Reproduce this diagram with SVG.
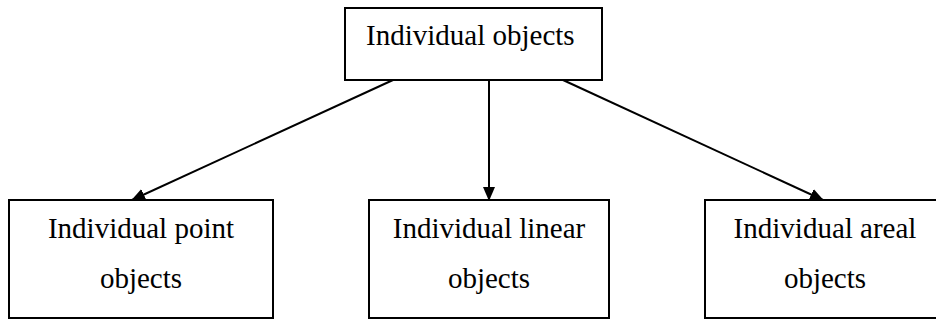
<svg xmlns="http://www.w3.org/2000/svg" width="936" height="320" viewBox="0 0 936 320">
<style>
.box{fill:#fff;stroke:#000;stroke-width:2}
.t{font-family:"Liberation Serif","Times New Roman",serif;font-size:29px;fill:#000}
.c{text-anchor:middle}
.conn{stroke:#000;stroke-width:2;fill:none}
</style>
<defs>
<marker id="ah" markerUnits="userSpaceOnUse" markerWidth="14" markerHeight="12" refX="13" refY="6" orient="auto">
<path d="M0,0 L14,6 L0,12 z" fill="#000"/>
</marker>
</defs>
<rect x="0" y="0" width="936" height="320" fill="#fff"/>
<g id="connectors">
<line class="conn" x1="393" y1="80" x2="132" y2="200" marker-end="url(#ah)"/>
<line class="conn" x1="489" y1="80" x2="489" y2="200" marker-end="url(#ah)"/>
<line class="conn" x1="563" y1="80" x2="823" y2="200" marker-end="url(#ah)"/>
</g>
<g id="top">
<rect class="box" x="345" y="8" width="257" height="72"/>
<text class="t" x="366" y="45">Individual objects</text>
</g>
<g id="point">
<rect class="box" x="9" y="200" width="264" height="118"/>
<text class="t c" x="141" y="238">Individual point</text>
<text class="t c" x="141" y="288">objects</text>
</g>
<g id="linear">
<rect class="box" x="369" y="200" width="240" height="118"/>
<text class="t c" x="489" y="238">Individual linear</text>
<text class="t c" x="489" y="288">objects</text>
</g>
<g id="areal">
<rect class="box" x="705" y="200" width="240" height="118"/>
<text class="t c" x="825" y="238">Individual areal</text>
<text class="t c" x="825" y="288">objects</text>
</g>
</svg>
